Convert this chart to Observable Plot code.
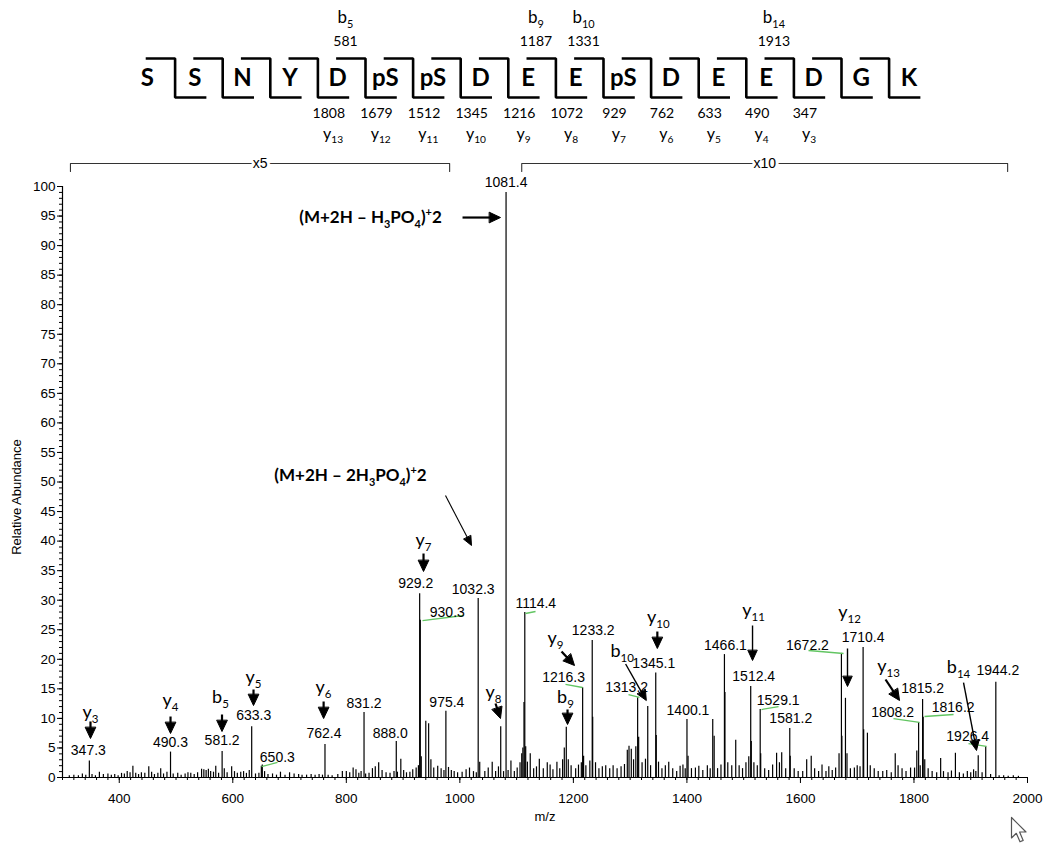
<!DOCTYPE html>
<html><head><meta charset="utf-8">
<script src="https://cdn.jsdelivr.net/npm/d3@7"></script>
<script src="https://cdn.jsdelivr.net/npm/@observablehq/plot@0.6"></script>
<style>
html,body{margin:0;padding:0;background:#fff;}
#wrap{position:relative;width:1050px;height:847px;overflow:hidden;background:#fff;}
#wrap svg{display:block;}
</style></head>
<body><div id="wrap"></div>
<script>
// ================= DATA =================
const residues = ["S","S","N","Y","D","pS","pS","D","E","E","pS","D","E","E","D","G","K"];
const bIonNumbers = [5, 9, 10, 14];
const bIonMasses  = [581, 1187, 1331, 1913];
const yIonNumbers = [13, 12, 11, 10, 9, 8, 7, 6, 5, 4, 3];
const yIonMasses  = [1808, 1679, 1512, 1345, 1216, 1072, 929, 762, 633, 490, 347];

// labelled peaks (m/z, relative abundance as displayed)
const labeledMz  = [347.3, 490.3, 581.2, 633.3, 650.3, 762.4, 831.2, 888.0, 929.2, 930.3, 975.4, 1032.3, 1081.4, 1114.4, 1216.3, 1233.2, 1313.2, 1345.1, 1400.1, 1466.1, 1512.4, 1529.1, 1581.2, 1672.2, 1710.4, 1808.2, 1815.2, 1816.2, 1926.4, 1944.2];
const labeledInt = [2.8, 4.3, 4.4, 8.6, 1.9, 5.6, 11.0, 6.1, 31.1, 26.6, 11.2, 30.3, 99, 27.9, 15.2, 23.2, 13.5, 17.7, 9.8, 20.8, 15.4, 11.5, 8.3, 21.0, 22.0, 9.3, 13.2, 10.2, 5.2, 16.1];

// unlabelled peaks [m/z, abundance]
const otherPeaks = [
 [312,0.3],[320,0.4],[328,0.3],[335,0.6],[341,0.4],[352,0.5],[358,0.3],[365,0.9],[372,0.5],[380,0.6],[386,0.4],[392,0.5],[398,0.3],
 [404,0.7],[409,0.6],[414,1.0],[419,0.8],[424,1.9],[429,0.7],[434,0.5],[439,0.8],[445,0.7],[452,1.8],[457,0.9],[462,0.5],[468,0.7],[473,1.5],[478,0.6],[484,0.9],[495,0.6],
 [503,0.7],[509,0.4],[516,0.6],[521,0.8],[526,0.7],[532,0.5],[538,0.8],[545,1.4],[549,1.3],[553,1.2],[557,1.4],[561,1.0],[566,0.9],[570,1.9],[575,0.7],[585,1.5],[590,0.8],[598,1.8],[603,1.0],
 [608,0.7],[614,0.9],[619,1.0],[624,0.7],[629,1.2],[640,0.6],[646,0.7],[652,2.1],[656,1.0],[662,0.5],[670,0.6],[677,0.4],[684,0.9],[692,0.4],[700,0.8],[708,0.6],[716,0.5],[722,0.4],[730,0.4],
 [738,0.5],[745,0.4],[752,0.5],[758,0.4],[768,0.4],[775,0.3],[785,0.5],[793,1.0],[800,1.0],
 [806,0.8],[812,1.6],[817,1.3],[822,0.7],[826,1.0],[834,0.6],[840,0.7],[846,1.5],[851,1.8],[857,2.5],[863,1.2],[870,0.8],[877,0.7],[884,1.0],[890,0.9],[896,3.1],[901,1.2],
 [906,0.8],[912,0.9],[917,1.3],[923,1.6],[927,2.0],[932,3.5],[940,9.5],[945,9.1],[949,3.0],[954,1.6],[961,1.9],[967,1.5],[972,1.2],[980,1.7],[985,1.2],[990,1.0],[996,0.8],
 [1004,0.9],[1011,1.3],[1017,1.6],[1024,1.0],[1029,0.8],[1035,2.6],[1044,1.0],[1050,1.6],[1057,2.6],[1063,1.0],[1068,1.8],[1072,8.6],[1077,1.0],[1085,1.2],[1090,2.8],[1096,1.0],[1101,1.6],[1106,2.5],[1109,4.0],
 [1111,5.0],[1113,12.7],[1116,5.2],[1119,2.6],[1124,4.0],[1130,1.5],[1135,1.8],[1140,3.1],[1147,1.5],[1154,2.5],[1159,2.1],[1164,1.3],[1171,2.6],[1176,1.5],[1181,3.0],[1184,5.0],[1187.5,8.5],[1191,3.0],[1196,2.0],
 [1204,1.5],[1209,2.1],[1214,2.5],[1218,3.6],[1222,2.0],[1229,2.8],[1234,10.2],[1239,2.5],[1245,1.5],[1251,1.8],[1257,2.0],[1264,1.5],[1270,2.0],[1277,1.5],[1284,1.8],[1290,2.2],[1295,4.6],[1298,5.3],[1302,4.8],[1306,3.0],
 [1310,5.2],[1315,6.8],[1321,2.5],[1327,3.1],[1331,12.0],[1336,2.0],[1346,7.1],[1350,2.6],[1356,1.5],[1362,2.0],[1368,2.6],[1375,1.5],[1382,1.0],[1388,1.9],[1393,2.1],[1397,1.5],[1402,3.6],[1408,1.5],
 [1415,1.6],[1421,1.9],[1428,1.2],[1436,2.0],[1441,1.5],[1445.5,9.8],[1448,7.0],[1454,1.5],[1460,2.1],[1467,14.4],[1472,2.5],[1479,2.0],[1486,6.3],[1492,2.0],[1498,1.5],
 [1504,2.5],[1509,3.5],[1513.4,6.1],[1518,2.5],[1524,2.0],[1530,4.0],[1537,1.5],[1544,1.2],[1551,2.1],[1558,4.1],[1563,2.5],[1567,4.2],[1574,1.5],[1582,3.6],[1589,1.5],[1596,1.0],
 [1604,1.0],[1611,3.0],[1619,3.6],[1625,1.5],[1632,1.0],[1638,2.1],[1645,1.0],[1650,1.8],[1656,1.2],[1662,1.6],[1668,4.0],[1673,7.0],[1679.3,13.4],[1682,4.0],[1688,1.5],[1695,1.6],[1700,2.0],
 [1705,1.8],[1711.4,8.1],[1718,7.5],[1723,2.0],[1730,1.5],[1737,1.0],[1745,1.0],[1752,1.2],[1760,0.8],[1767,4.0],[1772,2.0],[1779,1.5],[1786,1.0],[1794,1.6],
 [1801,1.6],[1805,4.5],[1811,2.0],[1819,3.0],[1825,1.5],[1832,1.0],[1840,0.8],[1847,3.2],[1852,1.0],[1860,0.8],[1866,1.1],[1873,4.1],[1880,0.8],[1887,0.6],[1894,1.0],[1900,0.8],
 [1905,1.3],[1909,1.0],[1913.2,3.7],[1920,0.8],[1935,0.5],[1950,0.3],[1958,0.3],[1966,0.2],[1975,0.3],[1984,0.2]
];

const ionLabels = ["y_{3}","y_{4}","b_{5}","y_{5}","y_{6}","y_{7}","y_{8}","y_{9}","b_{9}","b_{10}","y_{10}","y_{11}","y_{12}","y_{13}","b_{14}"];
const precursorLabels = ["(M+2H – H_{3}PO_{4})^{+}2", "(M+2H – 2H_{3}PO_{4})^{+}2"];
const magnifications = ["x5", "x10"];
const magFrom = [314, 1109];
const magTo   = [982, 1965];
const xTicks = d3.range(400, 2001, 200);
const yTicks = d3.range(0, 101, 5);

// ================= LAYOUT (annotation placement) =================
// peak label offsets in px from each labelled peak top [dx, dy]
const labelOffsets = [[-1,-10],[0,-10],[0,-11],[2,-11],[16,-9],[-1,-11],[0,-9],[-6,-8],[-4,-10],[27,-8],[1,-9],[-5,-9],[0,-10],[11,-9],[-19,-10],[1,-10],[-11,-10],[-2,-9],[1,-9],[1,-9],[3,-10],[18,-9],[1,-10],[-34,-8],[0,-10],[-26,-10],[0,-11],[30,-10],[-18,-10],[2,-12]];
// ion label positions (m/z, abundance)
const ionLabelPos = [[349.3,11.0],[490.3,13.03],[578.3,13.54],[636.5,16.92],[759.8,15.23],[936,40.1],[1059.3,14.38],[1168.5,23.52],[1186.1,13.54],[1286,21.4],[1349.7,27.07],[1517.3,28.26],[1686.5,27.92],[1755.2,18.78],[1878.5,18.61]];
const precursorPos = [[842.6,94.75],[807.4,51.1]];
// arrows [x1, y1, x2(tip), y2(tip), style]
const arrowLayout = [
 [349.3,9.48,349.3,6.60,0],[490.3,10.32,490.3,7.45,0],[581,10.66,581,7.78,0],[636.5,14.89,636.5,12.18,0],[760,12.86,760,9.98,0],
 [936,37.9,936,34.86,0],[1062.8,12.52,1071.6,9.98,0],[1179.1,21.32,1202.0,18.95,0],[1189.7,11.51,1189.7,8.97,0],[1292,19.2,1328.5,13.03,1],
 [1347.9,24.7,1347.9,21.83,0],[1515.6,25.72,1515.6,19.8,1],[1682.9,21.83,1682.9,15.4,1],[1749.9,16.58,1774.6,13.03,0],[1887.3,16.07,1910.2,4.57,1],
 [1004.7,94.75,1071.6,94.75,0],[974.7,47.7,1020.5,39.26,2]
];
const arrowStyles = [{sw:2.2, head:11, half:5.2},{sw:1.4, head:10, half:4.6},{sw:1.1, head:9, half:4}];
// green leader lines [x1,y1,x2,y2]
const leaderLines = [
 [650.6,1.86,678.8,2.54],[934.2,26.56,1006.4,27.41],[1115.6,27.75,1133.3,28.09],[1186.1,15.74,1216.1,15.23],[1297.1,14.04,1316.5,13.54],
 [1531.4,11.5,1561.4,12.0],[1614.2,21.49,1675.9,20.98],[1763.9,9.98,1809.7,9.31],[1818.6,10.32,1869.7,10.66],[1896.1,5.75,1927.8,5.25]
];

// ================= helpers =================
function richText(svg) {
  d3.select(svg).selectAll("text").each(function() {
    const el = this;
    const s = el.textContent;
    if (!/[_^]\{/.test(s)) return;
    const fs = parseFloat(getComputedStyle(el).fontSize) || 14;
    el.textContent = "";
    const re = /([_^])\{([^}]*)\}|([^_^]+)/g;
    let m, shift = 0;
    while ((m = re.exec(s))) {
      const t = document.createElementNS("http://www.w3.org/2000/svg", "tspan");
      let target = 0;
      if (m[1]) {
        t.textContent = m[2];
        t.setAttribute("font-size", (fs * 0.64).toFixed(1));
        target = m[1] === "_" ? fs * 0.28 : -fs * 0.42;
      } else {
        t.textContent = m[3];
      }
      t.setAttribute("dy", (target - shift).toFixed(2));
      shift = target;
      el.appendChild(t);
    }
  });
}

const wrap = document.getElementById("wrap");

// ================= SEQUENCE DIAGRAM =================
const seqW = 1050, seqH = 150, uStep = 47.6, uLeft = 146.8, cutOffset = 0.584;
const cut = c => c - 1 + cutOffset;
const brackets = d3.range(1, residues.length).flatMap(c => {
  const p = cut(c);
  return [{c, u: p - 0.59, l: 1}, {c, u: p, l: 1}, {c, u: p, l: 0}, {c, u: p + 0.63, l: 0}];
});
const bData = bIonNumbers.map((n, i) => ({p: cut(n), label: `b_{${n}}`, mass: String(bIonMasses[i])}));
const yData = yIonNumbers.map((n, i) => ({p: cut(residues.length - n), label: `y_{${n}}`, mass: String(yIonMasses[i])}));

const seqPlot = Plot.plot({
  width: seqW, height: seqH,
  marginLeft: uLeft, marginRight: seqW - uLeft - uStep * (residues.length - 1),
  marginTop: 58, marginBottom: 53,
  x: {domain: [0, residues.length - 1], axis: null},
  y: {domain: [0, 1], axis: null},
  style: {fontFamily: "Lato", color: "black", background: "white", overflow: "visible"},
  marks: [
    Plot.line(brackets, {x: "u", y: "l", z: "c", stroke: "black", strokeWidth: 2.6, strokeLinejoin: "miter", strokeLinecap: "square"}),
    Plot.text(residues, {x: (d, i) => i, y: () => 0.5, text: d => d, fontSize: 24, fontWeight: "bold", fill: "black"}),
    Plot.text(bData, {x: d => d.p - 0.42, y: () => 2.05, text: "label", fontSize: 17, fill: "black"}),
    Plot.text(bData, {x: d => d.p - 0.42, y: () => 1.44, text: "mass", fontSize: 14, fill: "black"}),
    Plot.text(yData, {x: d => d.p + 0.23, y: () => -0.42, text: "mass", fontSize: 14, fill: "black"}),
    Plot.text(yData, {x: d => d.p + 0.32, y: () => -0.92, text: "label", fontSize: 16, fill: "black"})
  ]
});
wrap.appendChild(seqPlot);
richText(seqPlot);

// ================= SPECTRUM =================
const W = 1050, H = 697, mT = 36, mR = 23, mB = 70, mL = 62;
const xDom = [300, 2000], yDom = [0, 100];
const kx = (xDom[1] - xDom[0]) / (W - mL - mR);   // m/z per px
const ky = (yDom[1] - yDom[0]) / (H - mT - mB);   // abundance per px

const peaks = labeledMz.map((m, i) => ({mz: m, v: labeledInt[i]}))
  .concat(otherPeaks.map(([m, v]) => ({mz: m, v})));
const peakLabels = labeledMz.map((m, i) => ({
  x: m + labelOffsets[i][0] * kx,
  y: labeledInt[i] - labelOffsets[i][1] * ky,
  text: m.toFixed(1)
}));
const ionText = ionLabels.map((t, i) => ({x: ionLabelPos[i][0], y: ionLabelPos[i][1], text: t}));
const precText = precursorLabels.map((t, i) => ({x: precursorPos[i][0], y: precursorPos[i][1], text: t}));

const shafts = [], heads = [];
arrowLayout.forEach(([x1, y1, x2, y2, kind], id) => {
  const st = arrowStyles[kind];
  const dxp = (x2 - x1) / kx, dyp = -(y2 - y1) / ky;
  const len = Math.hypot(dxp, dyp);
  const ux = dxp / len, uy = dyp / len;
  const h = Math.min(st.head, len * 0.75), w = st.half;
  const bx = -ux * h, by = -uy * h;
  const toData = (ox, oy) => ({x: x2 + ox * kx, y: y2 - oy * ky});
  const base = toData(bx + ux * 1.5, by + uy * 1.5);
  shafts.push({x1, y1, x2: base.x, y2: base.y, sw: st.sw});
  heads.push({id, ...toData(bx - uy * w, by + ux * w)}, {id, ...toData(0, 0)}, {id, ...toData(bx + uy * w, by - ux * w)});
});

const brY = 100 + 23 * ky, brEnd = 100 + 15 * ky;
const magLines = magnifications.flatMap((lab, i) => [
  {g: i, x: magFrom[i], y: brEnd}, {g: i, x: magFrom[i], y: brY},
  {g: i, x: magTo[i], y: brY}, {g: i, x: magTo[i], y: brEnd}
]);
const magText = magnifications.map((lab, i) => ({x: (magFrom[i] + magTo[i]) / 2, y: brY, text: lab}));

const spec = Plot.plot({
  width: W, height: H, marginTop: mT, marginRight: mR, marginBottom: mB, marginLeft: mL,
  x: {domain: xDom, label: null},
  y: {domain: yDom, label: null},
  style: {fontFamily: "Liberation Sans, Arial, sans-serif", fontSize: "13px", color: "black", background: "white", overflow: "visible"},
  marks: [
    Plot.ruleX(peaks, {x: "mz", y: "v", stroke: "black", strokeWidth: 1.2}),
    Plot.ruleY([0], {stroke: "black", strokeWidth: 1.2}),
    Plot.ruleX([300], {stroke: "black", strokeWidth: 1.2}),
    Plot.axisX({ticks: d3.range(300, 2001, 20), tickSize: 3, tickFormat: () => "", label: null}),
    Plot.axisX({ticks: xTicks, tickSize: 6, tickPadding: 10, tickFormat: d => String(d), label: null, fontSize: 13.5}),
    Plot.axisY({ticks: d3.range(0, 101, 1), tickSize: 3, tickFormat: () => "", label: null}),
    Plot.axisY({ticks: yTicks, tickSize: 5, tickPadding: 2, tickFormat: d => String(d), label: null, fontSize: 13.5}),
    Plot.text(["Relative Abundance"], {frameAnchor: "left", dx: -46, dy: 15, rotate: -90, textAnchor: "middle", fontSize: 13, fill: "black"}),
    Plot.text(["m/z"], {frameAnchor: "bottom", dy: 43, fontSize: 13, fill: "black"}),
    Plot.link(leaderLines, {x1: d => d[0], y1: d => d[1], x2: d => d[2], y2: d => d[3], stroke: "#62c562", strokeWidth: 1.3}),
    Plot.text(peakLabels, {x: "x", y: "y", text: "text", fontSize: 14, fill: "black"}),
    Plot.link(shafts, {x1: "x1", y1: "y1", x2: "x2", y2: "y2", strokeWidth: "sw", stroke: "black"}),
    Plot.line(heads, {x: "x", y: "y", z: "id", fill: "black", stroke: "black", strokeWidth: 1, curve: "linear-closed", strokeLinejoin: "miter"}),
    Plot.text(ionText, {x: "x", y: "y", text: "text", fontFamily: "Lato", fontSize: 18, fill: "black"}),
    Plot.text(precText, {x: "x", y: "y", text: "text", fontFamily: "Lato", fontWeight: "bold", fontSize: 17, fill: "black"}),
    Plot.line(magLines, {x: "x", y: "y", z: "g", stroke: "#333", strokeWidth: 1.1}),
    Plot.text(magText, {x: "x", y: "y", text: "text", fontSize: 14, fill: "black", stroke: "white", strokeWidth: 6})
  ]
});
wrap.appendChild(spec);
richText(spec);

// mouse cursor seen in the reference screenshot
wrap.insertAdjacentHTML("beforeend",
  '<svg width="18" height="30" style="position:absolute;left:1010px;top:816px" viewBox="0 0 18 30">' +
  '<path d="M1.5 1.5 L1.5 22 L6.3 17.3 L10 25.8 L13.2 24.4 L9.6 16 L16 16 Z" fill="white" stroke="#555" stroke-width="1.2" stroke-linejoin="round"/></svg>');
</script>
</body></html>
